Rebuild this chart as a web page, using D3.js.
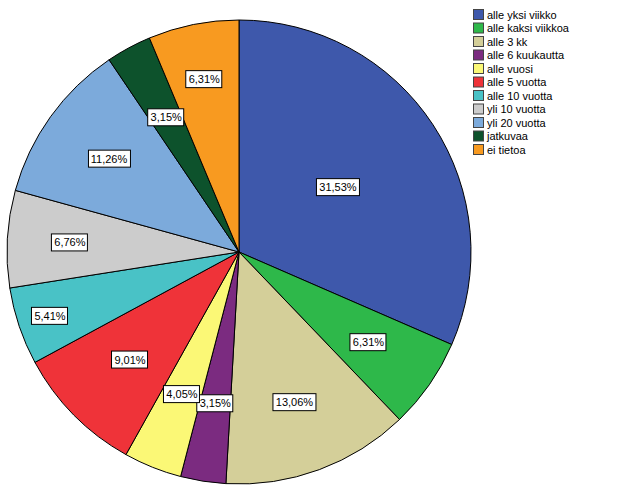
<!DOCTYPE html>
<html>
<head>
<meta charset="utf-8">
<script src="https://cdn.jsdelivr.net/npm/d3@7/dist/d3.min.js"></script>
<style>
  body { margin: 0; background: #fff; }
  svg { font-family: "Liberation Sans", Arial, sans-serif; }
</style>
</head>
<body>
<script>
const categories = ['alle yksi viikko', 'alle kaksi viikkoa', 'alle 3 kk', 'alle 6 kuukautta',
  'alle vuosi', 'alle 5 vuotta', 'alle 10 vuotta', 'yli 10 vuotta', 'yli 20 vuotta',
  'jatkuvaa', 'ei tietoa'];
const percents = [31.53, 6.31, 13.06, 3.15, 4.05, 9.01, 5.41, 6.76, 11.26, 3.15, 6.31];
const labels = ['31,53%', '6,31%', '13,06%', '3,15%', '4,05%', '9,01%', '5,41%', '6,76%', '11,26%', '3,15%', '6,31%'];

const colors = ['#3e58ab', '#2eb84a', '#d4cf99', '#7b2b80', '#fbf876', '#ef3339',
  '#49c2c6', '#cccccc', '#7caadb', '#0d522c', '#f89a20'];
// label distance from centre, as a share of the radius
const labelDist = [0.51, 0.68, 0.69, 0.66, 0.66, 0.66, 0.86, 0.73, 0.69, 0.66, 0.76];

const w = 629, h = 504;
const cx = 239, cy = 252, r = 232;

const svg = d3.select('body').append('svg')
  .attr('width', w)
  .attr('height', h);

const pie = d3.pie().sort(null).value(d => d);
const arcs = pie(percents);
const arc = d3.arc().innerRadius(0).outerRadius(r);

const g = svg.append('g').attr('transform', `translate(${cx},${cy})`);

g.selectAll('path')
  .data(arcs)
  .enter().append('path')
  .attr('d', arc)
  .attr('fill', (d, i) => colors[i])
  .attr('stroke', '#000')
  .attr('stroke-width', 1)
  .attr('stroke-linejoin', 'round');

// labels
const lab = g.selectAll('g.lab')
  .data(arcs)
  .enter().append('g')
  .attr('class', 'lab')
  .attr('transform', (d, i) => {
    const a = (d.startAngle + d.endAngle) / 2;
    const rr = r * labelDist[i];
    return `translate(${Math.sin(a) * rr},${-Math.cos(a) * rr})`;
  });

lab.append('text')
  .attr('text-anchor', 'middle')
  .attr('dy', '0.36em')
  .attr('font-size', 11)
  .text((d, i) => labels[i])
  .each(function() {
    const b = this.getBBox();
    d3.select(this.parentNode).insert('rect', 'text')
      .attr('x', Math.round(b.x) - 2.5)
      .attr('y', -8.5)
      .attr('width', Math.round(b.width) + 5)
      .attr('height', 17)
      .attr('fill', '#fff')
      .attr('stroke', '#000')
      .attr('stroke-width', 1);
  });

// legend
const legend = svg.append('g').attr('transform', 'translate(473,9)');
const item = legend.selectAll('g')
  .data(categories)
  .enter().append('g')
  .attr('transform', (d, i) => `translate(0,${i * 13.5})`);

item.append('rect')
  .attr('x', 0.5).attr('y', 0.5)
  .attr('width', 10).attr('height', 10)
  .attr('fill', (d, i) => colors[i])
  .attr('stroke', '#444')
  .attr('stroke-width', 1);

item.append('text')
  .attr('x', 14)
  .attr('y', 9.5)
  .attr('font-size', 11)
  .attr('fill', '#000')
  .text(d => d);
</script>
</body>
</html>
